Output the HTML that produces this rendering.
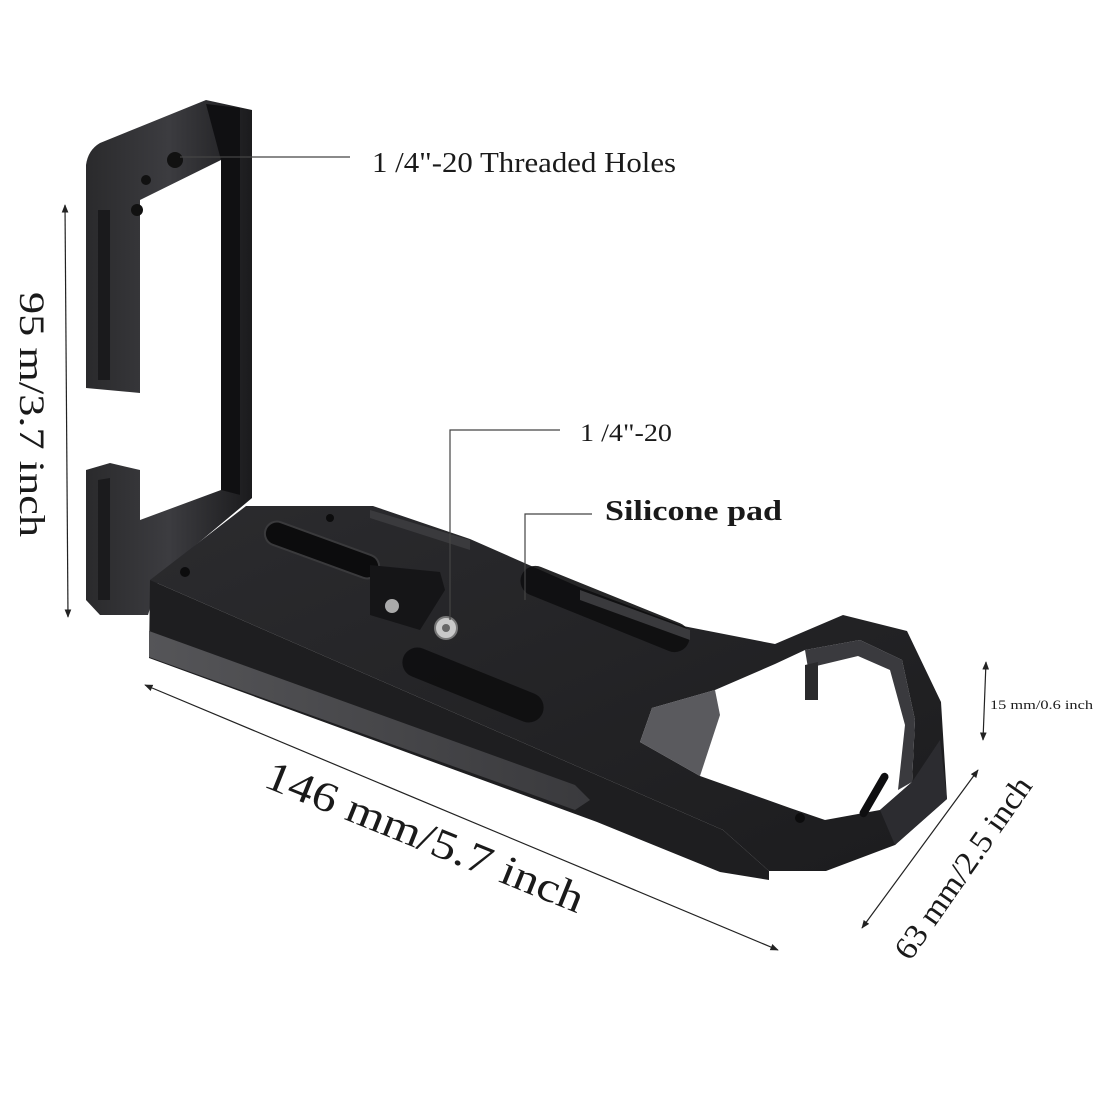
<!DOCTYPE html>
<html><head><meta charset="utf-8"><style>
html,body{margin:0;padding:0;background:#fff;}
svg{display:block;}
text{font-family:"Liberation Serif",serif;fill:#1a1a1a;}
</style></head><body>
<svg width="1100" height="1100" viewBox="0 0 1100 1100" xmlns="http://www.w3.org/2000/svg">
<defs>
<linearGradient id="gv" x1="0" x2="1" y1="0" y2="0"><stop offset="0" stop-color="#2a2a2c"/><stop offset="0.5" stop-color="#3c3c40"/><stop offset="1" stop-color="#1b1b1d"/></linearGradient>
<linearGradient id="gt" x1="0" x2="1" y1="0" y2="1"><stop offset="0" stop-color="#2b2b2e"/><stop offset="1" stop-color="#1c1c1e"/></linearGradient>
<linearGradient id="gg" x1="0" x2="1"><stop offset="0" stop-color="#555558"/><stop offset="1" stop-color="#3a3a3d"/></linearGradient>
<marker id="ar" viewBox="0 0 10 10" refX="9" refY="5" markerWidth="7" markerHeight="7" orient="auto-start-reverse"><path d="M0,1 L10,5 L0,9 z" fill="#222"/></marker>
</defs>

<!-- vertical bracket -->
<path d="M86,165 Q88,150 100,143 L206,100 L252,110 L252,498 L221,510 L221,160 L140,200 L140,393 L86,388 Z" fill="url(#gv)"/>
<path d="M221,160 L206,104 L240,108 L240,500 L221,505 Z" fill="#101012"/>
<path d="M98,210 L110,210 L110,380 L98,380 Z" fill="#1a1a1c"/>
<circle cx="175" cy="160" r="8" fill="#111"/><circle cx="146" cy="180" r="5" fill="#111"/><circle cx="137" cy="210" r="6" fill="#111"/>
<!-- lower left arm -->
<path d="M86,470 L110,463 L140,470 L140,520 L221,490 L252,498 L160,575 L148,615 L100,615 L86,600 Z" fill="url(#gv)"/>
<path d="M98,480 L110,478 L110,600 L98,600 Z" fill="#1b1b1d"/>

<!-- base plate top surface -->
<path d="M150,580 L246,506 L373,506 L470,539 L579,587 L683,626 L775,644 L843,615 L907,631 L941,702 L947,799 L895,845 L826,871 L769,871 L723,830 L597,775 Z" fill="url(#gt)"/>
<!-- front face -->
<path d="M150,580 L597,775 L723,830 L769,871 L769,880 L720,872 L597,822 L149,658 Z" fill="#1e1e20"/>
<path d="M149,631 L575,785 L590,800 L575,810 L149,657 Z" fill="url(#gg)"/>
<!-- grip hole -->
<path d="M640,742 L652,708 L715,690 L775,664 L805,650 L860,640 L902,660 L915,720 L912,782 L880,810 L825,820 L790,808 L700,776 Z" fill="#fff"/>
<path d="M640,742 L652,708 L715,690 L720,715 L700,776 Z" fill="#5a5a5e"/>
<path d="M805,650 L860,640 L902,660 L915,720 L912,782 L898,790 L905,725 L890,670 L858,656 L808,668 Z" fill="#3a3a3e"/>
<path d="M805,665 L818,662 L818,700 L805,700 Z" fill="#2a2a2c"/>
<path d="M880,810 L912,782 L940,740 L947,799 L895,845 Z" fill="#2c2c30"/>
<rect x="870" y="770" width="8" height="50" rx="4" transform="rotate(30 874 795)" fill="#0e0e10"/>

<!-- slot and pads -->
<rect x="262" y="538" width="120" height="24" rx="12" transform="rotate(20 322 550)" fill="#0c0c0d" stroke="#3a3a3c" stroke-width="2"/>
<path d="M370,565 L440,572 L445,590 L420,630 L370,615 Z" fill="#151517"/>
<circle cx="392" cy="606" r="7" fill="#aaa"/>
<rect x="515" y="594" width="180" height="30" rx="15" transform="rotate(22 605 609)" fill="#0e0e10" opacity="0.9"/>
<rect x="398" y="670" width="150" height="30" rx="15" transform="rotate(22 473 685)" fill="#0e0e10" opacity="0.9"/>
<circle cx="446" cy="628" r="11" fill="#c9c9c9" stroke="#777" stroke-width="2"/>
<circle cx="446" cy="628" r="4" fill="#666"/>
<circle cx="185" cy="572" r="5" fill="#0c0c0d"/><circle cx="330" cy="518" r="4" fill="#0c0c0d"/><circle cx="800" cy="818" r="5" fill="#0c0c0d"/>
<path d="M370,510 L470,540 L470,550 L370,518 Z" fill="#3a3a3d"/>
<path d="M580,590 L690,630 L690,640 L580,600 Z" fill="#3a3a3d"/>

<!-- leader lines -->
<line x1="180" y1="157" x2="350" y2="157" stroke="#444" stroke-width="1.2"/>
<text x="372" y="172" font-size="28" textLength="304" lengthAdjust="spacingAndGlyphs">1 /4"-20 Threaded Holes</text>
<polyline points="450,620 450,430 560,430" fill="none" stroke="#444" stroke-width="1.2"/>
<text x="580" y="441" font-size="25" textLength="92" lengthAdjust="spacingAndGlyphs">1 /4"-20</text>
<polyline points="525,600 525,514 592,514" fill="none" stroke="#444" stroke-width="1.2"/>
<text x="605" y="520" font-size="29" font-weight="bold" textLength="177" lengthAdjust="spacingAndGlyphs">Silicone pad</text>

<!-- dimensions -->
<line x1="65" y1="205" x2="68" y2="617" stroke="#222" stroke-width="1.2" marker-start="url(#ar)" marker-end="url(#ar)"/>
<text transform="translate(20,292) rotate(90)" font-size="36" textLength="245" lengthAdjust="spacingAndGlyphs">95 m/3.7 inch</text>
<line x1="145" y1="685" x2="778" y2="950" stroke="#222" stroke-width="1.2" marker-start="url(#ar)" marker-end="url(#ar)"/>
<text transform="translate(262,786) rotate(22)" font-size="42" textLength="340" lengthAdjust="spacingAndGlyphs">146 mm/5.7 inch</text>
<line x1="986" y1="662" x2="983" y2="740" stroke="#222" stroke-width="1.2" marker-start="url(#ar)" marker-end="url(#ar)"/>
<text x="990" y="709" font-size="13" textLength="103" lengthAdjust="spacingAndGlyphs">15 mm/0.6 inch</text>
<line x1="862" y1="928" x2="978" y2="770" stroke="#222" stroke-width="1.2" marker-start="url(#ar)" marker-end="url(#ar)"/>
<text transform="translate(910,962) rotate(-55)" font-size="32" textLength="215" lengthAdjust="spacingAndGlyphs">63 mm/2.5 inch</text>
</svg>
</body></html>
